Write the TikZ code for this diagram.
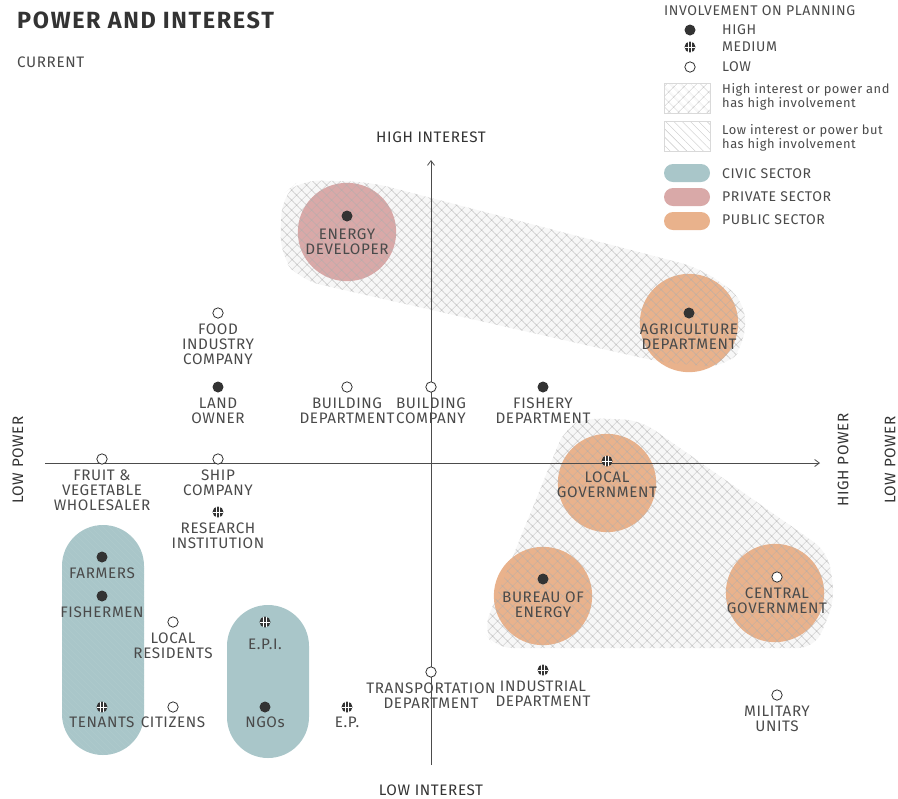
\documentclass[tikz,border=0pt]{standalone}
\usepackage{fontspec}
\setmainfont{Fira Sans}[LetterSpace=4]
\usetikzlibrary{positioning,arrows.meta,patterns.meta}

\definecolor{ink}{HTML}{333333}
\definecolor{txt}{HTML}{4A4A4A}
\definecolor{civic}{HTML}{A9C6C9}
\definecolor{private}{HTML}{D9A9A8}
\definecolor{public}{HTML}{E9B28C}

\tikzset{
  dothigh/.style={circle,fill=ink,inner sep=0,minimum size=0.33cm},
  dotlow/.style={circle,draw=ink,fill=white,line width=0.7pt,inner sep=0,minimum size=0.31cm},
  dotmid/.style={circle,fill=ink,inner sep=0,minimum size=0.33cm,
    path picture={\draw[white,line width=0.45pt]
      ([xshift=-0.05cm]path picture bounding box.north) -- ([xshift=-0.05cm]path picture bounding box.south)
      ([xshift=0.05cm]path picture bounding box.north) -- ([xshift=0.05cm]path picture bounding box.south)
      (path picture bounding box.west) -- (path picture bounding box.east);}},
  lbl/.style={text=txt,align=center,inner sep=0,font=\fontsize{13}{12.8}\selectfont},
  legtext/.style={text=txt,anchor=west,inner sep=0,align=left,font=\fontsize{12}{12}\selectfont},
  legnote/.style={text=txt,anchor=west,inner sep=0,align=left,font=\fontsize{11}{11.8}\selectfont},
  axlabel/.style={text=ink,inner sep=0,font=\fontsize{13}{13}\selectfont},
  sector/.style={circle,inner sep=0,minimum size=2.95cm},
  crosshatch/.style={pattern={Hatch[angle=45,distance=6.5pt,line width=0.35pt]},pattern color=black!32},
  lighthatch/.style={pattern={Lines[angle=-45,distance=5pt,line width=0.35pt]},pattern color=black!22},
  axis/.style={draw=black!70,line width=0.7pt},
}

\begin{document}
\begin{tikzpicture}[x=0.03cm,y=-0.03cm]
  \useasboundingbox (0,0) rectangle (898,798);

  % title
  \node[anchor=west,inner sep=0,text=ink,font=\fontsize{20}{22}\bfseries\addfontfeature{LetterSpace=7}] (title) at (17,20) {POWER AND INTEREST};
  \node[anchor=west,inner sep=0,text=txt,font=\fontsize{13}{14}\selectfont] (sub) at (17,62) {CURRENT};

  % hatched zones (background tint)
  \fill[black!3,rounded corners=0.6cm] (282,195) -- (300,180) -- (370,182) -- (700,268) -- (745,300)
    -- (745,345) -- (725,368) -- (660,362) -- (300,280) -- (280,255) -- cycle;
  \fill[black!3,rounded corners=0.5cm] (565,428) -- (585,418) -- (640,420) -- (828,552) -- (835,600)
    -- (815,648) -- (495,648) -- (483,630) -- cycle;

  % sector circles
  \node[sector,fill=private] (energy-c) at (347,232) {};
  \node[sector,fill=public] (agri-c) at (689,323) {};
  \node[sector,fill=public] (localgov-c) at (607,483) {};
  \node[sector,fill=public] (bureau-c) at (543,596) {};
  \node[sector,fill=public] (central-c) at (775,593) {};

  % civic pills
  \fill[civic,rounded corners=1.23cm,postaction={pattern={Lines[angle=-45,distance=4pt,line width=0.35pt]},pattern color=white!15!civic}]
    (62,525) rectangle (144,755);
  \fill[civic,rounded corners=1.23cm] (227,605) rectangle (309,758);

  % crosshatch on top of circles
  \path[crosshatch,rounded corners=0.6cm] (282,195) -- (300,180) -- (370,182) -- (700,268) -- (745,300)
    -- (745,345) -- (725,368) -- (660,362) -- (300,280) -- (280,255) -- cycle;
  \path[crosshatch,rounded corners=0.5cm] (565,428) -- (585,418) -- (640,420) -- (828,552) -- (835,600)
    -- (815,648) -- (495,648) -- (483,630) -- cycle;

  % axes
  \coordinate (west) at (45,463);
  \coordinate (east) at (820,463);
  \coordinate (south) at (431,765);
  \coordinate (north) at (431,160);
  \draw[axis,-{Straight Barb[length=4pt,width=6pt]}] (west) -- (east);
  \draw[axis,-{Straight Barb[length=4pt,width=6pt]}] (south) -- (north);

  \node[axlabel] (hi-int) at (431,137) {HIGH INTEREST};
  \node[axlabel] (lo-int) at (431,790) {LOW INTEREST};
  \node[axlabel,rotate=90] (lo-pow) at (18,460) {LOW POWER};
  \node[axlabel,rotate=90] (hi-pow) at (843,460) {HIGH POWER};
  \node[axlabel,rotate=90] (lo-pow2) at (890,460) {LOW POWER};

  % stakeholders
  \node[dothigh] (energy) at (347,216) {};
  \node[lbl,below=5.5pt of energy] {ENERGY\\DEVELOPER};
  \node[dothigh] (agri) at (689,313) {};
  \node[lbl,below=4pt of agri] {AGRICULTURE\\DEPARTMENT};
  \node[dotmid] (localgov) at (607,461) {};
  \node[lbl,below=4pt of localgov] {LOCAL\\GOVERNMENT};
  \node[dothigh] (bureau) at (543,579) {};
  \node[lbl,below=5.5pt of bureau] {BUREAU OF\\ENERGY};
  \node[dotlow] (central) at (777,577) {};
  \node[lbl,below=4.5pt of central] {CENTRAL\\GOVERNMENT};

  \node[dotlow] (food) at (218,313) {};
  \node[lbl,below=4pt of food] {FOOD\\INDUSTRY\\COMPANY};
  \node[dothigh] (land) at (218,387) {};
  \node[lbl,below=4pt of land] {LAND\\OWNER};
  \node[dotlow] (builddep) at (347,387) {};
  \node[lbl,below=4pt of builddep] {BUILDING\\DEPARTMENT};
  \node[dotlow] (buildco) at (431,387) {};
  \node[lbl,below=4pt of buildco] {BUILDING\\COMPANY};
  \node[dothigh] (fishery) at (543,387) {};
  \node[lbl,below=4pt of fishery] {FISHERY\\DEPARTMENT};

  \node[dotlow] (fruit) at (102,459) {};
  \node[lbl,below=4pt of fruit] {FRUIT \&\\VEGETABLE\\WHOLESALER};
  \node[dotlow] (ship) at (218,459) {};
  \node[lbl,below=4pt of ship] {SHIP\\COMPANY};
  \node[dotmid] (research) at (218,512) {};
  \node[lbl,below=4pt of research] {RESEARCH\\INSTITUTION};

  \node[dothigh] (farmers) at (102,557) {};
  \node[lbl,below=4pt of farmers] {FARMERS};
  \node[dothigh] (fishermen) at (102,596) {};
  \node[lbl,below=4pt of fishermen] {FISHERMEN};
  \node[dotmid] (tenants) at (102,707) {};
  \node[lbl,below=3.5pt of tenants] {TENANTS};
  \node[dotlow] (residents) at (173,622) {};
  \node[lbl,below=4pt of residents] {LOCAL\\RESIDENTS};
  \node[dotlow] (citizens) at (173,707) {};
  \node[lbl,below=3.5pt of citizens] {CITIZENS};
  \node[dotmid] (epi) at (265,622) {};
  \node[lbl,below=9pt of epi] {E.P.I.};
  \node[dothigh] (ngos) at (265,707) {};
  \node[lbl,below=3.5pt of ngos] {NGOs};
  \node[dotmid] (ep) at (347,707) {};
  \node[lbl,below=3.5pt of ep] {E.P.};

  \node[dotlow] (transport) at (431,672) {};
  \node[lbl,below=4pt of transport] {TRANSPORTATION\\DEPARTMENT};
  \node[dotmid] (industrial) at (543,670) {};
  \node[lbl,below=4pt of industrial] {INDUSTRIAL\\DEPARTMENT};
  \node[dotlow] (military) at (777,695) {};
  \node[lbl,below=4pt of military] {MILITARY\\UNITS};

  % legend
  \node[legtext] (leg-title) at (664,11) {INVOLVEMENT ON PLANNING};
  \node[dothigh] (leg-high) at (690,30) {};
  \node[dotmid] (leg-mid) at (690,47) {};
  \node[dotlow] (leg-low) at (690,67) {};
  \node[legtext] at (722,30) {HIGH};
  \node[legtext] at (722,47) {MEDIUM};
  \node[legtext] at (722,67) {LOW};

  \path[crosshatch,draw=black!15,line width=0.3pt] (664,83) rectangle (710,113);
  \node[legnote] at (722,97) {High interest or power and\\has high involvement};
  \path[lighthatch,draw=black!15,line width=0.3pt] (664,121) rectangle (710,151);
  \node[legnote] at (722,138) {Low interest or power but\\has high involvement};

  \fill[civic,rounded corners=0.27cm] (664,164) rectangle (710,182);
  \fill[private,rounded corners=0.27cm] (664,188) rectangle (710,206);
  \fill[public,rounded corners=0.27cm] (664,212) rectangle (710,230);
  \node[legtext] at (722,174) {CIVIC SECTOR};
  \node[legtext] at (722,197) {PRIVATE SECTOR};
  \node[legtext] at (722,220) {PUBLIC SECTOR};
\end{tikzpicture}
\end{document}
